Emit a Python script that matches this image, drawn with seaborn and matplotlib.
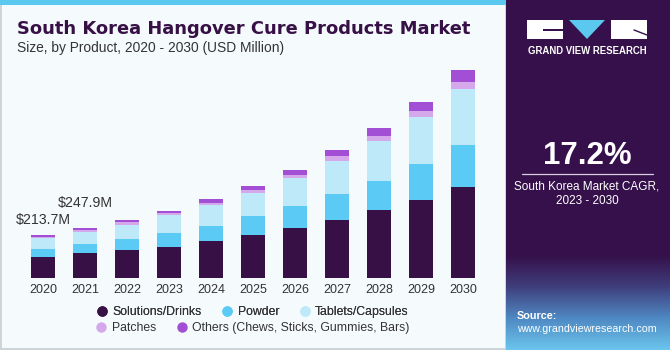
import numpy as np
import pandas as pd
import matplotlib
matplotlib.use("Agg")
import matplotlib.pyplot as plt
import seaborn as sns
from matplotlib.patches import Rectangle, Polygon
from matplotlib.lines import Line2D
from matplotlib.colors import LinearSegmentedColormap

# Waarden (USD miljoen)
years = ["2020", "2021", "2022", "2023", "2024", "2025", "2026", "2027", "2028", "2029", "2030"]
solutions = [106, 123, 138, 157, 187, 213, 248, 290, 338, 392, 455]
powder = [40, 48, 57, 68, 73, 95, 113, 130, 148, 180, 210]
tablets = [55, 60, 72, 88, 107, 118, 137, 165, 198, 233, 280]
patches = [5, 8, 12, 12, 9, 13, 17, 23, 25, 28, 33]
others = [8, 9, 11, 12, 19, 22, 25, 32, 39, 48, 62]

segments = ["Solutions/Drinks", "Powder", "Tablets/Capsules", "Patches",
            "Others (Chews, Sticks, Gummies, Bars)"]
colors = ["#371046", "#5BCBF5", "#BDE9F9", "#D5A8EC", "#A24FD6"]
value_labels = {"2020": "$213.7M", "2021": "$247.9M"}

DARK = "#371046"
PANEL = "#35104A"
BG = "#F5FAFD"


def main():
    sns.set_style("white")
    plt.rcParams["font.family"] = ["Liberation Sans", "DejaVu Sans"]

    fig = plt.figure(figsize=(6.7, 3.5), dpi=100, facecolor=BG)
    W, H = 670, 350

    def fx(px):
        return px / W

    def fy(py):
        return 1 - py / H

    # rand en bovenste strook
    fig.patches.append(Rectangle((0.001, 0.004), fx(505), 0.995, transform=fig.transFigure,
                                 facecolor="none", edgecolor="#C8CDD2", lw=1.2, zorder=-1))
    fig.patches.append(Rectangle((0, fy(5)), fx(506), 5 / H, transform=fig.transFigure,
                                 facecolor="#5BC8F0", edgecolor="none", zorder=1))

    # rechter paneel met verloop onderaan
    pax = fig.add_axes([fx(506), 0, 1 - fx(506), 1])
    rows = np.arange(350)
    grad = np.clip((rows - 255) / 95.0, 0, 1)
    cmap = LinearSegmentedColormap.from_list("p", [PANEL, "#403F7E", "#4F8AC4", "#6CC6EE"])
    pax.imshow(grad.reshape(-1, 1), aspect="auto", cmap=cmap,
               extent=[0, 1, 0, 1], vmin=0, vmax=1)
    pax.set_xlim(0, 1)
    pax.set_ylim(0, 1)
    pax.axis("off")

    # logo
    def box(x0, y0, x1, y1, **kw):
        fig.patches.append(Rectangle((fx(x0), fy(y1)), fx(x1 - x0), (y1 - y0) / H,
                                     transform=fig.transFigure, **kw))
    box(527, 20, 563, 39, facecolor="white", edgecolor="none", zorder=3)
    box(543, 29, 563, 31, facecolor=PANEL, edgecolor="none", zorder=4)
    fig.patches.append(Polygon([(fx(569), fy(20)), (fx(605), fy(20)), (fx(587), fy(39))],
                               closed=True, transform=fig.transFigure,
                               facecolor="#5BC8F0", edgecolor="none", zorder=3))
    box(611, 20, 647, 39, facecolor="white", edgecolor="none", zorder=3)
    fig.lines.append(Line2D([fx(634), fx(647)], [fy(30), fy(35)], transform=fig.transFigure,
                            color=PANEL, lw=1, zorder=4))
    fig.text(fx(587), fy(51), "GRAND VIEW RESEARCH", color="white", fontsize=6.9,
             fontweight="bold", ha="center", va="center")

    fig.text(fx(587), fy(156), "17.2%", color="white", fontsize=22.5,
             fontweight="bold", ha="center", va="center")
    fig.lines.append(Line2D([fx(522), fx(653)], [fy(173.5), fy(173.5)],
                            transform=fig.transFigure, color="#D8D0E0", lw=0.9))
    fig.text(fx(587), fy(186), "South Korea Market CAGR,", color="white", fontsize=8.5,
             ha="center", va="center")
    fig.text(fx(587), fy(201), "2023 - 2030", color="white", fontsize=8.5,
             ha="center", va="center")
    fig.text(fx(517), fy(316), "Source:", color="white", fontsize=7.8,
             fontweight="bold", ha="left", va="center")
    fig.text(fx(517), fy(329), "www.grandviewresearch.com", color="white", fontsize=7.7,
             ha="left", va="center")

    # titel
    fig.text(fx(17), fy(29), "South Korea Hangover Cure Products Market", color=DARK,
             fontsize=12.9, fontweight="heavy", ha="left", va="center",
             family=["DejaVu Sans"])
    fig.text(fx(17), fy(48), "Size, by Product, 2020 - 2030 (USD Million)", color="#333333",
             fontsize=9.9, ha="left", va="center")

    # gestapelde staven: cumulatief, van boven naar onder getekend
    df = pd.DataFrame({"year": years, segments[0]: solutions, segments[1]: powder,
                       segments[2]: tablets, segments[3]: patches, segments[4]: others})
    cum = df[segments].cumsum(axis=1)

    ax = fig.add_axes([fx(22), fy(278), fx(462), 218 / H])
    ax.set_facecolor("none")
    for seg, col in reversed(list(zip(segments, colors))):
        sns.barplot(x=df["year"], y=cum[seg], color=col, width=0.57, ax=ax,
                    saturation=1, edgecolor="none")

    totals = cum[segments[-1]]
    offsets = {"2020": 6, "2021": 13}
    for i, yr in enumerate(years):
        if yr in value_labels:
            ax.annotate(value_labels[yr], xy=(i, totals[i]), xytext=(0, offsets[yr]),
                        textcoords="offset points", ha="center", va="bottom",
                        fontsize=10.2, color="#333333")

    ax.set_xlim(-0.5, 10.5)
    ax.set_ylim(0, 1090)
    ax.set_xlabel("")
    ax.set_ylabel("")
    ax.set_yticks([])
    ax.tick_params(axis="x", length=0, pad=4, labelsize=9, labelcolor="#333333")
    sns.despine(ax=ax, left=True, bottom=True)

    # legenda in twee gecentreerde rijen
    handles = [Line2D([], [], marker="o", ls="", markersize=7.5, markerfacecolor=c,
                      markeredgecolor="none") for c in colors]
    leg1 = fig.legend(handles[:3], segments[:3], loc="center", ncol=3,
                      bbox_to_anchor=(fx(253), fy(312)), frameon=False, fontsize=8.8,
                      handlelength=0.8, handletextpad=0.45, columnspacing=1.7,
                      labelcolor="#333333")
    fig.legend(handles[3:], segments[3:], loc="center", ncol=2,
               bbox_to_anchor=(fx(253), fy(328)), frameon=False, fontsize=8.8,
               handlelength=0.8, handletextpad=0.45, columnspacing=1.7,
               labelcolor="#333333")
    fig.add_artist(leg1)

    fig.savefig("out.png", dpi=100, facecolor=BG)


if __name__ == "__main__":
    main()
